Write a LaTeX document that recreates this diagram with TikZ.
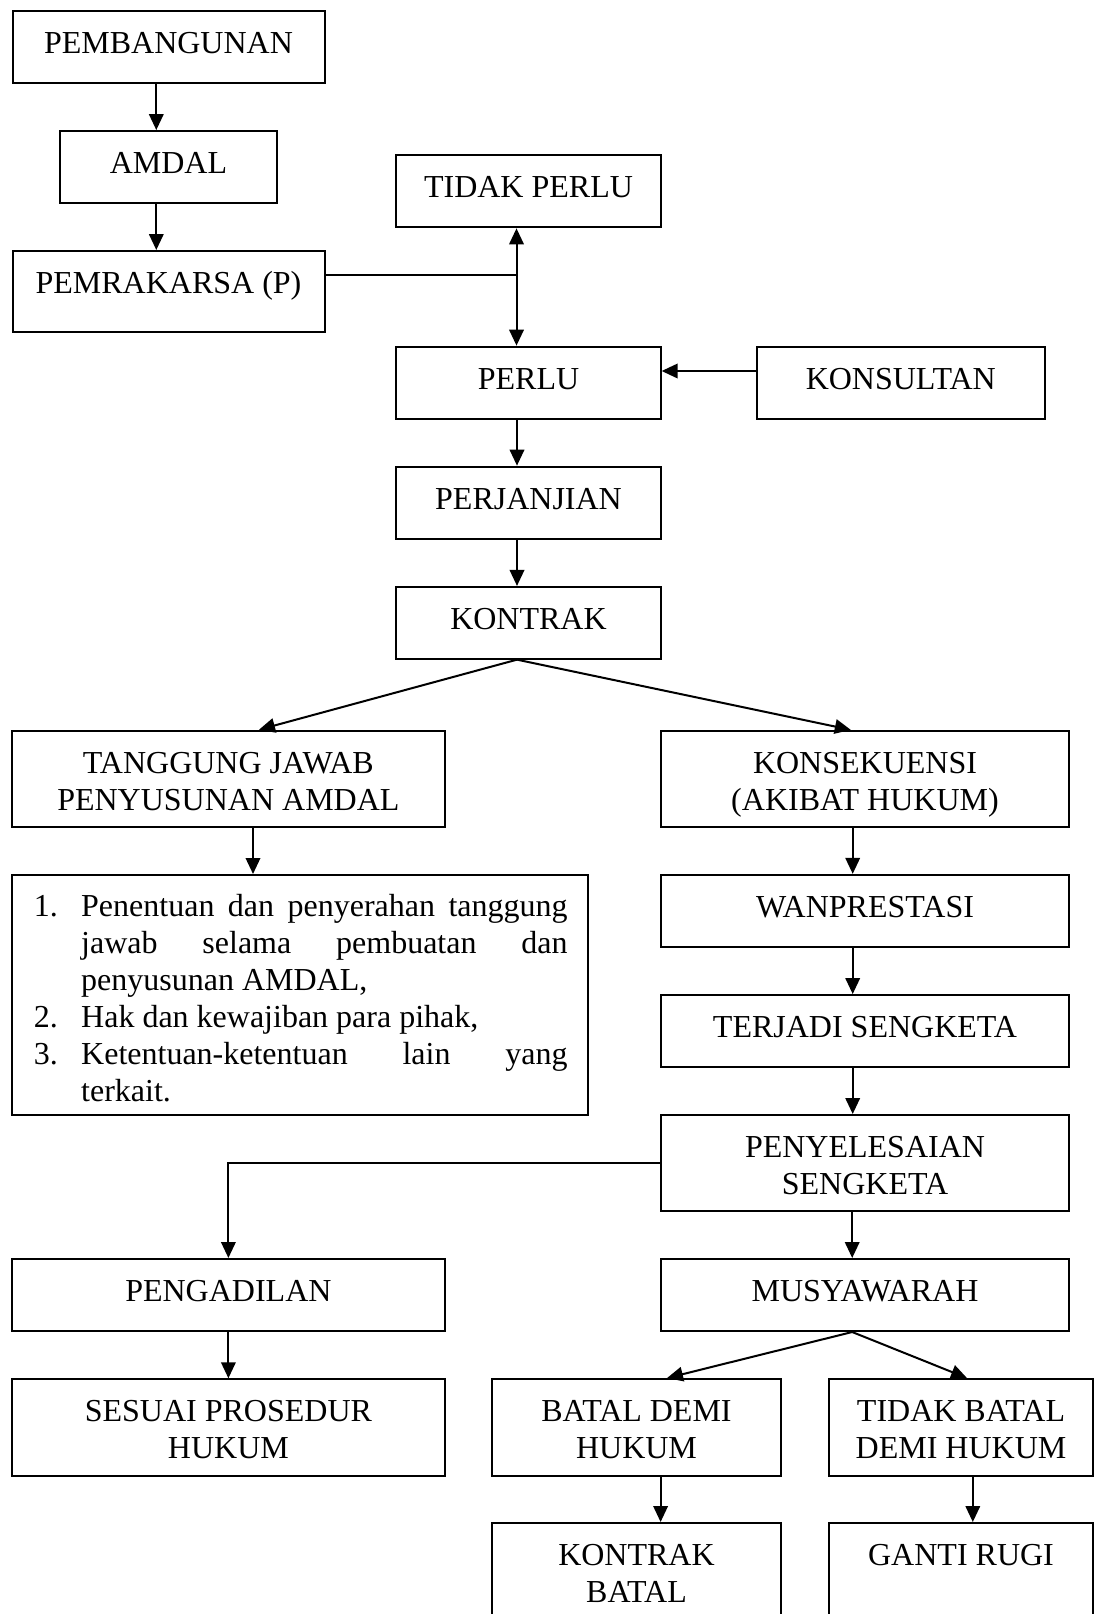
\documentclass[tikz,border=0pt]{standalone}
\usepackage{fontspec}
\setmainfont{Liberation Serif}
\usetikzlibrary{arrows.meta,calc}
\newcommand{\mlines}[1]{\begin{tabular}[t]{@{}c@{}}#1\end{tabular}}
\begin{document}
\begin{tikzpicture}[x=1pt,y=-1pt,
  box/.style={draw, line width=2pt, inner sep=0pt},
  lbl/.style={anchor=base, inner sep=0pt, font=\fontsize{32}{37}\selectfont},
  conn/.style={line width=2pt},
  arr/.style={conn, -{Triangle[length=16pt,width=14.5pt]}}]
\useasboundingbox (0,0) rectangle (1095,1614);
\fill[white] (0,0) rectangle (1095,1614);
\clip (0,0) rectangle (1095,1614);

% boxes
\node[box, minimum width=312pt, minimum height=72pt] (pemb) at (168.5,46.7) {};
\node[box, minimum width=216.5pt, minimum height=71.7pt] (amdal) at (168.5,166.9) {};
\node[box, minimum width=312pt, minimum height=81pt] (pemr) at (168.5,291.5) {};
\node[box, minimum width=264.3pt, minimum height=72.3pt] (tidak) at (528.5,191.2) {};
\node[box, minimum width=264.3pt, minimum height=72.3pt] (perlu) at (528.5,382.8) {};
\node[box, minimum width=288.5pt, minimum height=72.3pt] (konsultan) at (900.8,382.8) {};
\node[box, minimum width=264.3pt, minimum height=72.3pt] (perjanjian) at (528.5,502.8) {};
\node[box, minimum width=264.3pt, minimum height=71.7pt] (kontrak) at (528.5,622.8) {};
\node[box, minimum width=433pt, minimum height=96.6pt] (tj) at (228.4,779) {};
\node[box, minimum width=576.5pt, minimum height=240pt] (listbox) at (300.2,995) {};
\node[box, minimum width=408.6pt, minimum height=96.3pt] (kons) at (865,779) {};
\node[box, minimum width=408.6pt, minimum height=72.3pt] (wan) at (865,911) {};
\node[box, minimum width=408.6pt, minimum height=72.3pt] (terjadi) at (865,1031.2) {};
\node[box, minimum width=408.6pt, minimum height=96pt] (peny) at (865,1163) {};
\node[box, minimum width=433pt, minimum height=72pt] (peng) at (228.4,1295) {};
\node[box, minimum width=433pt, minimum height=96.4pt] (sesuai) at (228.4,1427.5) {};
\node[box, minimum width=408.6pt, minimum height=72pt] (musy) at (865,1295) {};
\node[box, minimum width=288.4pt, minimum height=96.7pt] (batal) at (636.5,1427.4) {};
\node[box, minimum width=264pt, minimum height=96.7pt] (tbatal) at (961,1427.4) {};
\node[box, minimum width=288.4pt, minimum height=127pt] (kbatal) at (636.5,1586.5) {};
\node[box, minimum width=264pt, minimum height=127pt] (ganti) at (961,1586.5) {};

% labels
\node[lbl] (t-pemb) at ($(pemb.north)+(0,43.5)$) {PEMBANGUNAN};
\node[lbl] (t-amdal) at ($(amdal.north)+(0,43.5)$) {AMDAL};
\node[lbl] (t-pemr) at ($(pemr.north)+(0,43.5)$) {PEMRAKARSA (P)};
\node[lbl] (t-tidak) at ($(tidak.north)+(0,43.5)$) {TIDAK PERLU};
\node[lbl] (t-perlu) at ($(perlu.north)+(0,43.5)$) {PERLU};
\node[lbl] (t-konsultan) at ($(konsultan.north)+(0,43.5)$) {KONSULTAN};
\node[lbl] (t-perjanjian) at ($(perjanjian.north)+(0,43.5)$) {PERJANJIAN};
\node[lbl] (t-kontrak) at ($(kontrak.north)+(0,43.5)$) {KONTRAK};
\node[lbl] (t-tj) at ($(tj.north)+(0,43.5)$) {\mlines{TANGGUNG JAWAB\\PENYUSUNAN AMDAL}};
\node[lbl] (t-kons) at ($(kons.north)+(0,43.5)$) {\mlines{KONSEKUENSI\\(AKIBAT HUKUM)}};
\node[lbl] (t-wan) at ($(wan.north)+(0,43.5)$) {WANPRESTASI};
\node[lbl] (t-terjadi) at ($(terjadi.north)+(0,43.5)$) {TERJADI SENGKETA};
\node[lbl] (t-peny) at ($(peny.north)+(0,43.5)$) {\mlines{PENYELESAIAN\\SENGKETA}};
\node[lbl] (t-peng) at ($(peng.north)+(0,43.5)$) {PENGADILAN};
\node[lbl] (t-sesuai) at ($(sesuai.north)+(0,43.5)$) {\mlines{SESUAI PROSEDUR\\HUKUM}};
\node[lbl] (t-musy) at ($(musy.north)+(0,43.5)$) {MUSYAWARAH};
\node[lbl] (t-batal) at ($(batal.north)+(0,43.5)$) {\mlines{BATAL DEMI\\HUKUM}};
\node[lbl] (t-tbatal) at ($(tbatal.north)+(0,43.5)$) {\mlines{TIDAK BATAL\\DEMI HUKUM}};
\node[lbl] (t-kbatal) at ($(kbatal.north)+(0,43.5)$) {\mlines{KONTRAK\\BATAL}};
\node[lbl] (t-ganti) at ($(ganti.north)+(0,43.5)$) {GANTI RUGI};

\node[lbl, anchor=base west] (listtext) at (33.6,916.5) {\parbox[t]{533.8pt}{%
\makebox[47.4pt][l]{1.}\makebox[486.4pt][s]{Penentuan dan penyerahan tanggung}\\
\hspace*{47.4pt}\makebox[486.4pt][s]{jawab selama pembuatan dan}\\
\hspace*{47.4pt}penyusunan AMDAL,\\
\makebox[47.4pt][l]{2.}Hak dan kewajiban para pihak,\\
\makebox[47.4pt][l]{3.}\makebox[486.4pt][s]{Ketentuan-ketentuan lain yang}\\
\hspace*{47.4pt}terkait.}};

% connectors
\draw[arr] ($(pemb.south)+(-12.2,0)$) coordinate (c1) -- (c1 |- amdal.north);
\draw[arr] ($(amdal.south)+(-12.2,0)$) coordinate (c2) -- (c2 |- pemr.north);
\coordinate (j) at (516.5,275);
\draw[conn] (pemr.east |- j) -- (j);
\draw[arr] (j) -- (j |- tidak.south);
\draw[arr] (j) -- (j |- perlu.north);
\draw[arr] ($(konsultan.west)+(0,-11.8)$) coordinate (c3) -- (c3 -| perlu.east);
\draw[arr] ($(perlu.south)+(-11.5,0)$) coordinate (c4) -- (c4 |- perjanjian.north);
\draw[arr] ($(perjanjian.south)+(-11.5,0)$) coordinate (c5) -- (c5 |- kontrak.north);
\coordinate (kb) at ($(kontrak.south)+(-11.5,0)$);
\draw[arr] (kb) -- ($(tj.north)+(30.6,0)$);
\draw[arr] (kb) -- ($(kons.north)+(-14.2,0)$);
\draw[arr] ($(tj.south)+(24.6,0)$) coordinate (c6) -- (c6 |- listbox.north);
\draw[arr] ($(kons.south)+(-12.3,0)$) coordinate (c7) -- (c7 |- wan.north);
\draw[arr] ($(wan.south)+(-12.3,0)$) coordinate (c8) -- (c8 |- terjadi.north);
\draw[arr] ($(terjadi.south)+(-12.3,0)$) coordinate (c9) -- (c9 |- peny.north);
\draw[arr] ($(peny.south)+(-12.8,0)$) coordinate (c10) -- (c10 |- musy.north);
\draw[arr] (peny.west) -| (peng.north);
\draw[arr] (peng.south) -- (sesuai.north);
\coordinate (mb) at ($(musy.south)+(-12.8,0)$);
\draw[arr] (mb) -- ($(batal.north)+(30.5,0)$);
\draw[arr] (mb) -- ($(tbatal.north)+(6,0)$);
\draw[arr] ($(batal.south)+(24.1,0)$) coordinate (c11) -- (c11 |- kbatal.north);
\draw[arr] ($(tbatal.south)+(11.8,0)$) coordinate (c12) -- (c12 |- ganti.north);
\end{tikzpicture}
\end{document}
